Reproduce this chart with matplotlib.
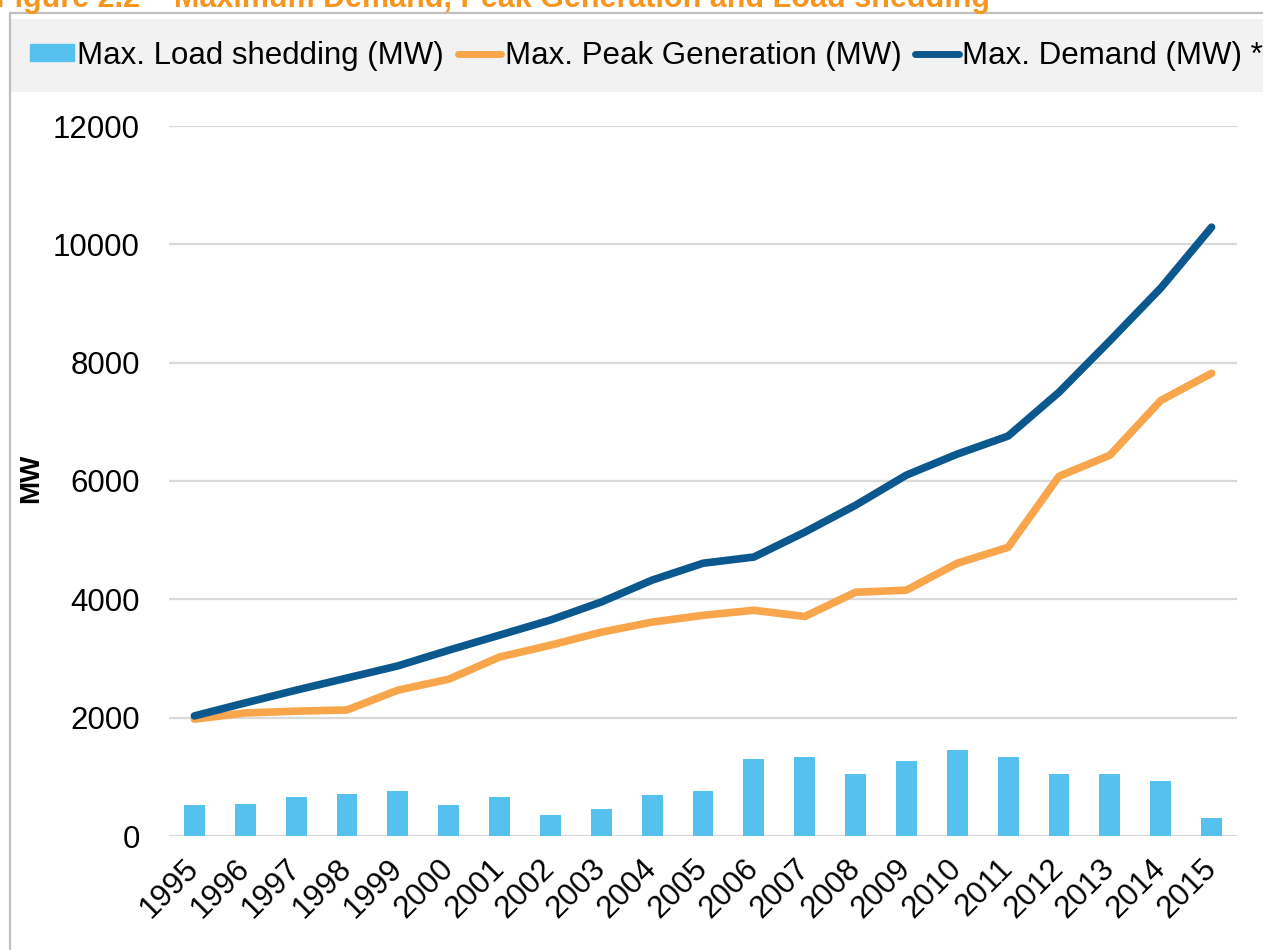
import numpy as np
import matplotlib.pyplot as plt
from matplotlib.patches import Patch, Rectangle
from matplotlib.lines import Line2D

plt.rcParams['font.family'] = ['Liberation Sans', 'DejaVu Sans']
plt.rcParams['lines.solid_capstyle'] = 'round'

years = ['1995', '1996', '1997', '1998', '1999', '2000', '2001', '2002', '2003', '2004',
         '2005', '2006', '2007', '2008', '2009', '2010', '2011', '2012', '2013', '2014', '2015']
load_shedding = [530, 540, 660, 710, 760, 525, 660, 355, 455, 695,
                 760, 1300, 1335, 1045, 1265, 1455, 1335, 1045, 1045, 930, 305]
peak_gen = [1975, 2080, 2110, 2130, 2465, 2650, 3025, 3225, 3445, 3615,
            3730, 3815, 3710, 4120, 4155, 4610, 4880, 6080, 6435, 7360, 7820]
max_demand = [2030, 2250, 2465, 2670, 2875, 3140, 3395, 3650, 3955, 4325,
              4610, 4715, 5135, 5590, 6100, 6455, 6760, 7500, 8370, 9260, 10290]

c_bar = '#56C1EF'
c_gen = '#F9A54B'
c_dem = '#0B588E'

W, H = 1263, 950
fig = plt.figure(figsize=(W / 100, H / 100), dpi=100)

# grey frame + legend band
fig.patches.append(Rectangle((11 / W, 1 - 92 / H), 1, 73 / H, transform=fig.transFigure,
                             facecolor='#F2F2F2', edgecolor='none', zorder=0))
fig.lines.append(Line2D([10 / W, 10 / W], [0, 1 - 13 / H], transform=fig.transFigure,
                        color='#BFBFBF', lw=1.6))
fig.lines.append(Line2D([10 / W, 1], [1 - 13 / H, 1 - 13 / H], transform=fig.transFigure,
                        color='#BFBFBF', lw=1.6))

fig.text(990 / W, 1 - 7 / H, 'Figure 2.2 \u2013 Maximum Demand, Peak Generation and Load shedding',
         ha='right', va='baseline', fontsize=22, fontweight='bold', color='#F7961F')

ax = fig.add_axes([169 / W, 1 - 836 / H, (1237 - 169) / W, (836 - 126) / H])
x = np.arange(len(years))
ax.bar(x, load_shedding, width=0.41, color=c_bar, zorder=2)
ax.plot(x, peak_gen, color=c_gen, lw=5.5, zorder=3)
ax.plot(x, max_demand, color=c_dem, lw=5.5, zorder=4)

ax.set_xlim(-0.5, len(years) - 0.5)
ax.set_ylim(0, 12000)
ax.set_yticks(range(0, 12001, 2000))
ax.grid(axis='y', color='#D9D9D9', lw=1.6, zorder=0)
ax.set_axisbelow(True)
for s in ax.spines.values():
    s.set_visible(False)
ax.tick_params(axis='y', length=0, pad=21, labelsize=22.5)
ax.tick_params(axis='x', length=0, pad=20, labelsize=22.5)
ax.set_xticks(x)
ax.set_xticklabels(years, rotation=45, ha='right', va='center', rotation_mode='anchor')

fig.text(31 / W, 1 - 478 / H, 'MW', rotation=90, ha='center', va='center',
         fontsize=20, fontweight='bold')

handles = [Patch(color=c_bar), Line2D([], [], color=c_gen, lw=5), Line2D([], [], color=c_dem, lw=5)]
labels = ['Max. Load shedding (MW)', 'Max. Peak Generation (MW)', 'Max. Demand (MW) *']
fig.legend(handles, labels, loc='center left', bbox_to_anchor=(30 / W, 1 - 56 / H), ncol=3,
           frameon=False, fontsize=22.5, handlelength=1.4, handleheight=0.45,
           handletextpad=0.1, columnspacing=0.45, borderpad=0, borderaxespad=0)

fig.savefig('out.png', dpi=100)
